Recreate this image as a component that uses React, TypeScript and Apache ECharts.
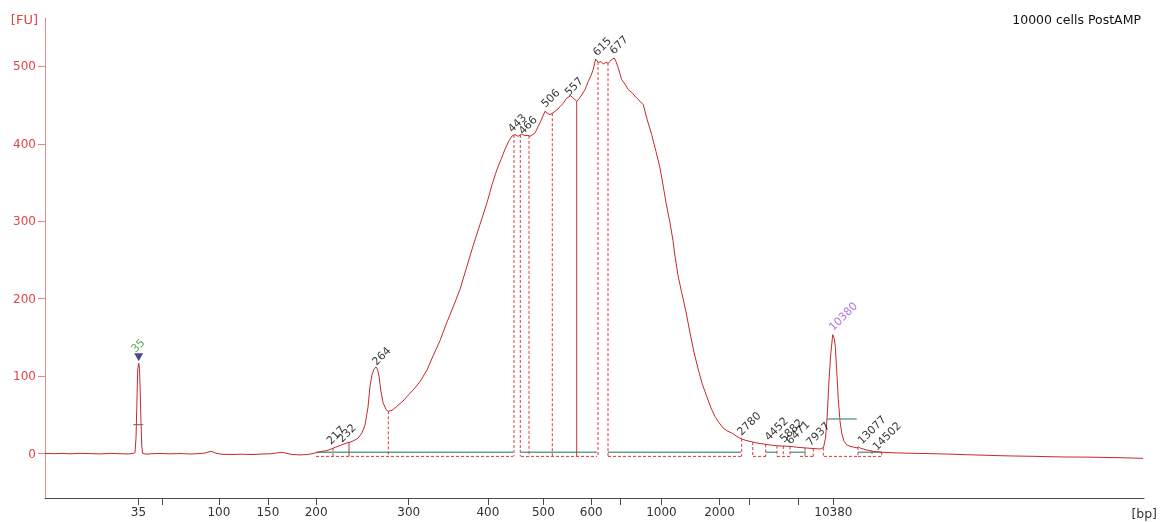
import React, { useEffect, useRef } from 'react';
import * as echarts from 'echarts';

// Migration time (s) and fluorescence (FU) of the electropherogram trace
const timeS = [40.0, 41.0, 41.7, 42.5, 43.5, 44.5, 45.5, 46.5, 47.5, 48.3, 48.8, 49.0, 49.1, 49.18, 49.27, 49.37, 49.45, 49.52, 49.6, 49.68, 49.76, 50.1, 50.7, 51.5, 52.5, 53.5, 54.5, 55.3, 56.0, 56.4, 56.7, 57.1, 57.7, 58.7, 59.7, 60.7, 61.7, 62.7, 63.3, 63.7, 64.1, 64.7, 65.5, 66.1, 66.7, 67.2, 67.7, 68.2, 68.8, 69.3, 69.8, 70.2, 70.5, 70.9, 71.3, 71.7, 72.0, 72.3, 72.5, 72.7, 72.9, 73.1, 73.25, 73.4, 73.6, 73.8, 74.1, 74.33, 74.7, 75.17, 75.8, 76.5, 77.0, 77.5, 78.2, 78.8, 79.5, 80.17, 80.8, 81.5, 82.1, 82.8, 83.5, 84.2, 84.7, 85.2, 85.6, 86.0, 86.4, 86.7, 87.0, 87.3, 87.67, 88.0, 88.3, 88.5, 89.0, 89.3, 89.6, 90.0, 90.3, 90.5, 90.8, 91.0, 91.3, 91.5, 91.8, 92.17, 92.57, 92.9, 93.17, 93.4, 93.67, 94.0, 94.33, 94.6, 94.8, 95.07, 95.33, 95.6, 95.83, 96.1, 96.33, 96.6, 96.93, 97.1, 97.33, 97.67, 98.0, 98.33, 98.7, 99.17, 99.5, 99.83, 100.2, 100.67, 101.1, 101.5, 101.8, 102.1, 102.5, 102.8, 103.0, 103.3, 103.67, 104.1, 104.5, 104.9, 105.33, 105.7, 106.17, 106.6, 107.0, 107.4, 107.83, 108.2, 108.67, 109.1, 109.5, 110.0, 110.5, 111.1, 111.83, 112.5, 113.17, 113.8, 114.5, 115.3, 116.17, 116.9, 117.5, 117.85, 118.05, 118.2, 118.37, 118.55, 118.77, 118.9, 119.03, 119.18, 119.33, 119.5, 119.67, 119.9, 120.17, 120.5, 120.83, 121.2, 121.35, 121.5, 122.1, 122.83, 123.5, 124.5, 125.5, 127.0, 128.8, 130.5, 132.17, 134.0, 135.5, 137.0, 138.8, 140.5, 142.17, 144.0, 145.5, 147.5, 149.8];
const fluorescence = [0.3, 0.0, 0.4, -0.2, 0.5, 0.1, -0.3, 0.4, 0.0, -0.4, 0.3, 1.5, 20, 60, 108, 117, 110, 80, 40, 10, 0.5, -0.6, 0.0, 0.3, -0.2, 0.2, -0.4, 0.0, 0.8, 2.5, 2.8, 0.6, -0.8, -1.0, -0.7, -1.1, -0.5, 0.0, 1.2, 1.8, 0.6, -1.0, -1.6, -1.2, 0.0, 1.5, 3.0, 4.0, 7, 9.5, 12, 14, 14.8, 17, 20, 27, 37, 60, 87, 102, 109, 112, 109, 100, 80, 66, 57, 54.6, 56, 61, 68, 78, 85, 93, 108, 126, 146, 169, 189, 212, 238, 268, 296, 324, 347, 367, 380, 393, 404, 410, 412, 409.6, 412.6, 410.5, 411, 409.6, 414, 422, 430, 442, 439, 437.6, 440, 442, 445, 448, 452, 459, 462, 458, 455, 458, 463, 470, 480.6, 488, 495, 509.5, 505, 506, 503, 505, 504, 508, 510.8, 506, 497.9, 482.8, 477, 469.9, 466, 459, 455, 450.5, 432, 411.8, 390, 368.8, 347, 324, 297.8, 275, 255, 230, 208, 183, 156, 131, 108.4, 91, 74, 59, 48, 40, 33, 29.5, 26.7, 23, 20, 17.5, 15.9, 14, 12.5, 11.2, 10.3, 9.8, 9.4, 8.2, 7.3, 6.6, 6.0, 8, 20, 45, 86.9, 125, 153.6, 150, 138.5, 105, 69.7, 42, 26.7, 16, 11.6, 9.4, 8.6, 7.5, 9.0, 7.3, 5.0, 3.0, 2.0, 1.3, 0.9, 0.4, 0.0, -0.6, -1.3, -2.0, -2.6, -3.0, -3.4, -3.9, -4.3, -4.4, -4.7, -5.2, -6.0];

// Ladder (bp) tick labels and their migration times
const ladderLabels = ['35', '50', '100', '150', '200', '300', '400', '500', '600', '700', '1000', '2000', '3000', '7000', '10380'];
const ladderTimes = [49.35, 51.73, 57.39, 62.29, 67.11, 76.37, 84.29, 89.84, 94.63, 97.5, 101.64, 107.45, 110.4, 115.36, 118.84];
const shownLadder = ['35', '100', '150', '200', '300', '400', '500', '600', '1000', '2000', '10380'];
const fuTicks = [0, 100, 200, 300, 400, 500];

// Peak labels (bp) and where they sit
const peakLabels = ['35', '217', '232', '264', '443', '466', '506', '557', '615', '677', '2780', '4452', '5882', '6471', '7937', '10380', '13077', '14502'];
const peakLabelTimes = [49.2, 68.73, 69.83, 73.3, 86.86, 87.93, 90.2, 92.53, 95.36, 97.03, 109.8, 112.53, 114.03, 114.7, 116.7, 118.96, 121.83, 123.33];
const peakLabelFU = [128.0, 9.3, 11.9, 111.3, 412.0, 409.4, 444.3, 459.4, 511.0, 513.1, 20.9, 14.1, 11.9, 9.7, 7.6, 156.1, 9.7, 1.5];

// Lower marker (35 bp) and upper marker (10380 bp)
const markerTime = 49.37;
const markerFU = 124.5;
const lowerMarkerWidth = [48.83, 49.83, 37.4];
const upperMarkerWidth = [118.17, 121.17, 44.8];

// Peak boundaries, peak apex lines and region baselines
const boundaryDashed = [68.8, 74.33, 86.9, 87.53, 88.4, 90.73, 95.3, 96.3, 109.67, 110.77, 112.07, 113.2, 113.83, 114.5, 116.0, 116.83, 117.83, 121.3, 122.7, 123.67];
const boundarySolid = [70.4, 93.17];
const baselineRegions = [[67.1, 86.8], [87.6, 95.2], [96.3, 109.6], [112.1, 113.2], [114.5, 116.1], [121.3, 123.7]];
const dashedRegions = [[67.1, 86.8], [87.6, 95.2], [96.3, 109.6], [110.8, 112.1], [113.2, 114.5], [115.5, 117.0], [117.9, 121.3], [121.3, 123.7]];
const baselineLevel = 2.0;
const dashedLevel = -3.5;

const FONT = 'DejaVu Sans';

function curveAt(t: number): number {
  for (let i = 0; i < timeS.length - 1; i++) {
    if (t >= timeS[i] && t <= timeS[i + 1]) {
      const f = (t - timeS[i]) / (timeS[i + 1] - timeS[i]);
      return fluorescence[i] + f * (fluorescence[i + 1] - fluorescence[i]);
    }
  }
  return 0;
}

function segments(ranges: number[][], level: number) {
  const out: any[] = [];
  ranges.forEach(([a, b]) => {
    out.push([a, level], [b, level], [b, '-']);
  });
  return out;
}

function verticals(ts: number[], bottom: number) {
  const out: any[] = [];
  ts.forEach((t) => {
    out.push([t, curveAt(t)], [t, bottom], [t, '-']);
  });
  return out;
}

export default function App() {
  const ref = useRef<HTMLDivElement>(null);

  useEffect(() => {
    document.body.style.margin = '0';
    if (!ref.current) return;
    const chart = echarts.init(ref.current, undefined, { renderer: 'svg' });
    const curve = timeS.map((t, i) => [t, fluorescence[i]]);
    const labelData = peakLabels.map((name, i) => ({
      name,
      value: [peakLabelTimes[i], peakLabelFU[i]],
      label: {
        color: name === '35' ? '#2e9a2e' : name === '10380' ? '#9b4fd8' : '#000000',
      },
    }));

    chart.setOption({
      animation: false,
      grid: { left: 45, right: 16, top: 18, bottom: 24, containLabel: false, outerBoundsMode: 'none' },
      xAxis: {
        type: 'value',
        min: 40,
        max: 149.9,
        axisLine: { onZero: false, lineStyle: { color: '#4a4a4a', width: 1 } },
        axisTick: { show: true, customValues: ladderTimes, length: 7, lineStyle: { color: '#4a4a4a' } },
        axisLabel: {
          customValues: ladderTimes.filter((_, i) => shownLadder.includes(ladderLabels[i])),
          formatter: (v: number) => {
            const i = ladderTimes.findIndex((x) => Math.abs(x - v) < 1e-6);
            return i >= 0 ? ladderLabels[i] : '';
          },
          color: '#333333',
          fontSize: 12,
          fontFamily: FONT,
          margin: 8,
        },
        splitLine: { show: false },
      },
      yAxis: {
        type: 'value',
        min: -57.2,
        max: 562.4,
        axisLine: { show: true, onZero: false, lineStyle: { color: '#e08a8a' } },
        axisTick: { show: true, customValues: fuTicks, length: 7, lineStyle: { color: '#e08a8a' } },
        axisLabel: { customValues: fuTicks, color: '#e04545', fontSize: 12, fontFamily: FONT, margin: 9 },
        splitLine: { show: false },
      },
      graphic: [
        {
          type: 'text',
          x: 38,
          y: 19,
          style: { text: '[FU]', fill: '#e04545', font: `13px "${FONT}"`, align: 'right', verticalAlign: 'middle', textAlign: 'right', textVerticalAlign: 'middle' },
        },
        {
          type: 'text',
          x: 1141,
          y: 19,
          style: { text: '10000 cells PostAMP', fill: '#111111', font: `12.5px "${FONT}"`, align: 'right', verticalAlign: 'middle', textAlign: 'right', textVerticalAlign: 'middle' },
        },
        {
          type: 'text',
          x: 1157,
          y: 513,
          style: { text: '[bp]', fill: '#333333', font: `12.5px "${FONT}"`, align: 'right', verticalAlign: 'middle', textAlign: 'right', textVerticalAlign: 'middle' },
        },
      ],
      series: [
        {
          type: 'line',
          name: 'baseline',
          data: segments(baselineRegions, baselineLevel),
          symbol: 'none',
          connectNulls: false,
          lineStyle: { color: '#64a098', width: 1.5 },
          silent: true,
          z: 2,
        },
        {
          type: 'line',
          name: 'regions',
          data: segments(dashedRegions, dashedLevel),
          symbol: 'none',
          connectNulls: false,
          lineStyle: { color: '#d43c3c', width: 1, type: [3, 2] },
          silent: true,
          z: 2,
        },
        {
          type: 'line',
          name: 'boundaries',
          data: verticals(boundaryDashed, dashedLevel),
          symbol: 'none',
          connectNulls: false,
          lineStyle: { color: '#d43c3c', width: 1, type: [3, 2] },
          silent: true,
          z: 2,
        },
        {
          type: 'line',
          name: 'apex',
          data: verticals(boundarySolid, dashedLevel),
          symbol: 'none',
          connectNulls: false,
          lineStyle: { color: '#c83232', width: 1 },
          silent: true,
          z: 2,
        },
        {
          type: 'line',
          name: 'lowerWidth',
          data: [[lowerMarkerWidth[0], lowerMarkerWidth[2]], [lowerMarkerWidth[1], lowerMarkerWidth[2]]],
          symbol: 'none',
          lineStyle: { color: '#666666', width: 1 },
          silent: true,
          z: 4,
        },
        {
          type: 'line',
          name: 'upperWidth',
          data: [[upperMarkerWidth[0], upperMarkerWidth[2]], [upperMarkerWidth[1], upperMarkerWidth[2]]],
          symbol: 'none',
          lineStyle: { color: '#64a098', width: 1.5 },
          silent: true,
          z: 4,
        },
        {
          type: 'line',
          name: 'trace',
          data: curve,
          symbol: 'none',
          lineStyle: { color: '#c62a2a', width: 1 },
          silent: true,
          z: 3,
        },
        {
          type: 'scatter',
          name: 'marker',
          data: [[markerTime, markerFU]],
          symbol: 'triangle',
          symbolRotate: 180,
          symbolSize: [9, 8],
          itemStyle: { color: '#1c1c6e' },
          silent: true,
          z: 5,
        },
        {
          type: 'scatter',
          name: 'peaks',
          data: labelData,
          symbolSize: 0,
          silent: true,
          z: 6,
          label: {
            show: true,
            position: 'inside',
            formatter: (p: any) => p.name,
            rotate: 45,
            align: 'left',
            verticalAlign: 'bottom',
            fontSize: 11,
            fontFamily: FONT,
          },
        },
      ],
    });
    return () => chart.dispose();
  }, []);

  return <div ref={ref} style={{ position: 'fixed', left: 0, top: 0, width: 1160, height: 522 }} />;
}
